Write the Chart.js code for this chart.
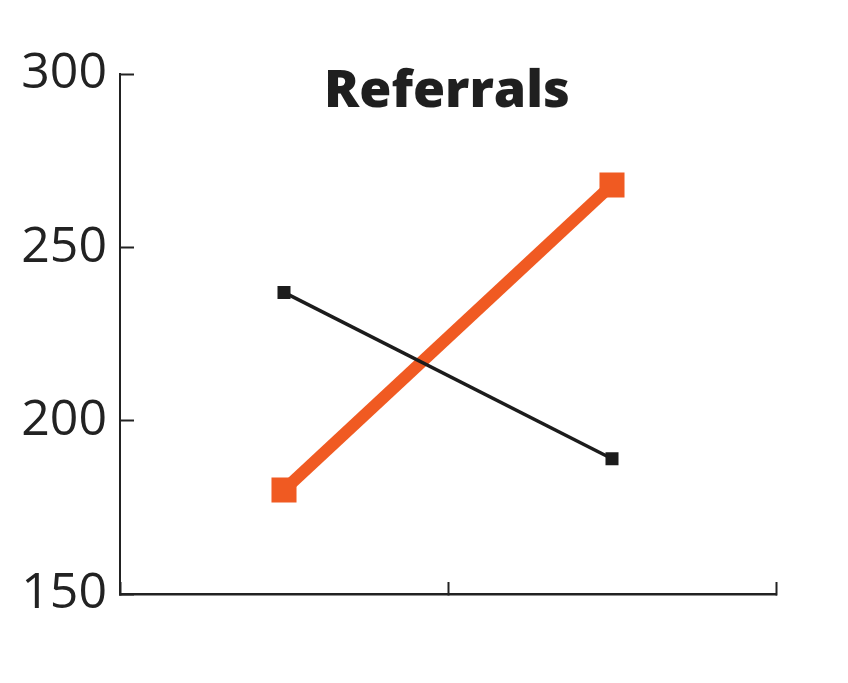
<!DOCTYPE html>
<html>
<head>
<meta charset="utf-8">
<script src="https://cdn.jsdelivr.net/npm/chart.js@4/dist/chart.umd.min.js"></script>
<style>
  html, body { margin: 0; padding: 0; background: #fff; }
  #wrap { width: 848px; height: 683px; }
</style>
</head>
<body>
<div id="wrap"><canvas id="referralsChart"></canvas></div>
<script>
const chartTitle = 'Referrals';
const categories = ['Before', 'After'];
const orangeValues = [180, 268];
const blackValues = [237, 189];
const yTicks = [150, 200, 250, 300];

// title sits inside the plot, centred on the chart area
const innerTitle = {
    id: 'innerTitle',
    afterDraw(chart) {
        const ctx = chart.ctx;
        const area = chart.chartArea;
        ctx.save();
        ctx.font = '800 52px "Open Sans"';
        ctx.fillStyle = '#1f1f1f';
        ctx.textAlign = 'center';
        ctx.textBaseline = 'alphabetic';
        ctx.fillText(chartTitle, (area.left + area.right) / 2 - 1, area.top + 33);
        ctx.restore();
    }
};

const ctx = document.getElementById('referralsChart').getContext('2d');
const referralsChart = new Chart(ctx, {
    type: 'line',
    data: {
        labels: categories,
        datasets: [{
            data: blackValues,
            borderColor: '#1c1c1c',
            backgroundColor: '#1c1c1c',
            borderWidth: 3.5,
            pointStyle: 'rect',
            pointRadius: 9.2,
            pointBorderWidth: 0
        }, {
            data: orangeValues,
            borderColor: '#f05a22',
            backgroundColor: '#f05a22',
            borderWidth: 12,
            pointStyle: 'rect',
            pointRadius: 17.7,
            pointBorderWidth: 0
        }]
    },
    options: {
        responsive: true,
        maintainAspectRatio: false,
        animation: false,
        layout: {
            padding: { top: 74, right: 72, bottom: 89, left: 0 }
        },
        plugins: {
            legend: { display: false },
            tooltip: { enabled: false }
        },
        scales: {
            x: {
                offset: true,
                ticks: { display: false },
                grid: {
                    offset: true,
                    drawOnChartArea: false,
                    tickLength: -12,
                    tickWidth: 2,
                    color: '#222'
                },
                border: { color: '#222', width: 2.5 },
                afterFit(scale) { scale.height = 0; }
            },
            y: {
                min: 150,
                max: 300,
                afterBuildTicks(scale) {
                    scale.ticks = yTicks.map(v => ({ value: v }));
                },
                ticks: {
                    padding: 27,
                    color: '#222',
                    font: { family: '"Open Sans"', size: 50 }
                },
                grid: {
                    drawOnChartArea: false,
                    tickLength: -14,
                    tickWidth: 2,
                    color: '#222'
                },
                border: { color: '#222', width: 2 },
                afterFit(scale) { scale.width = 120; }
            }
        }
    },
    plugins: [innerTitle]
});
</script>
</body>
</html>
